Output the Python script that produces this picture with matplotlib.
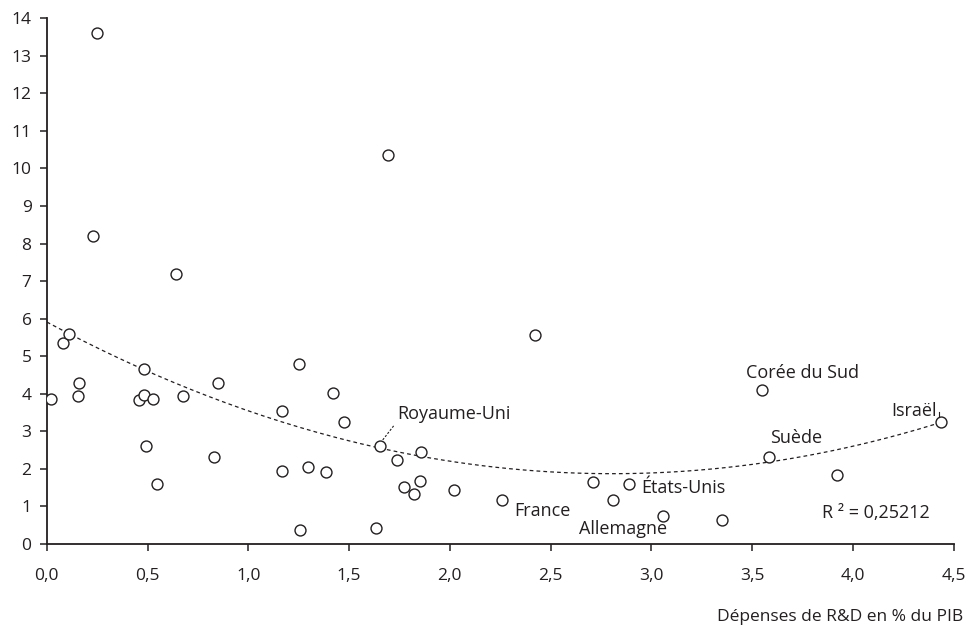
import numpy as np
import matplotlib
matplotlib.use("Agg")
import matplotlib.pyplot as plt

plt.rcParams['font.family'] = ['Open Sans', 'DejaVu Sans']

# R&D spending (% of GDP) vs y value, one entry per country
rd_spending = [0.023, 0.081, 0.110, 0.158, 0.155, 0.229, 0.249, 0.457, 0.480, 0.480,
               0.490, 0.526, 0.545, 0.642, 0.675, 0.832, 0.848, 1.165, 1.165, 1.249,
               1.258, 1.296, 1.386, 1.422, 1.477, 1.635, 1.653, 1.695, 1.737, 1.774,
               1.820, 1.851, 1.856, 2.020, 2.257, 2.422, 2.713, 2.812, 2.889, 3.058,
               3.349, 3.551, 3.586, 3.922, 4.440]
values = [3.86, 5.34, 5.58, 4.28, 3.95, 8.21, 13.60, 3.83, 3.96, 4.65,
          2.62, 3.87, 1.59, 7.20, 3.94, 2.31, 4.28, 3.53, 1.95, 4.79,
          0.37, 2.05, 1.92, 4.02, 3.24, 0.42, 2.62, 10.37, 2.24, 1.51,
          1.33, 1.68, 2.44, 1.44, 1.16, 5.56, 1.64, 1.17, 1.60, 0.74,
          0.63, 4.11, 2.32, 1.83, 3.24]

# quadratic trend (y = a x^2 + b x + c)
trend_coef = [0.513, -2.879, 5.91]
r2_text = "R \u00b2 = 0,25212"

labels = ["Royaume-Uni", "France", "Allemagne", "États-Unis", "Corée du Sud", "Suède", "Israël"]
label_x = [1.738, 2.32, 2.64, 2.952, 3.472, 3.587, 4.19]
label_y = [3.46, 0.89, 0.40, 1.48, 4.56, 2.83, 3.54]

x_ticks = [0, 0.5, 1.0, 1.5, 2.0, 2.5, 3.0, 3.5, 4.0, 4.5]
y_ticks = list(range(0, 15))

ink = "#231f20"

fig = plt.figure(figsize=(9.76, 6.31), dpi=100)
ax = fig.add_axes([0.048, 0.138, 0.929, 0.833])

xx = np.linspace(0, max(rd_spending), 200)
ax.plot(xx, np.polyval(trend_coef, xx), color=ink, lw=0.9, dashes=(3, 2.5), zorder=1)

ax.scatter(rd_spending, values, s=62, facecolor="white", edgecolor=ink, linewidth=1.0, zorder=3)

for name, lx, ly in zip(labels, label_x, label_y):
    ax.text(lx, ly, name, fontsize=13, color=ink, va="center", ha="left")

# leader lines
ax.plot([1.667, 1.722], [2.77, 3.15], color=ink, lw=0.8, dashes=(2, 1.5))
ax.plot([4.428, 4.428], [3.52, 3.29], color=ink, lw=0.8)

ax.text(3.849, 0.82, r2_text, fontsize=13, color=ink, va="center", ha="left")

ax.set_xlim(0, 4.5)
ax.set_ylim(0, 14)
ax.set_xticks(x_ticks)
ax.set_xticklabels([f"{t:.1f}".replace(".", ",") for t in x_ticks])
ax.set_yticks(y_ticks)
ax.tick_params(direction="out", length=5, width=1.1, color=ink, labelcolor=ink,
               labelsize=12.5)
ax.tick_params(axis="x", pad=12)
ax.tick_params(axis="y", pad=6)
for side in ["top", "right"]:
    ax.spines[side].set_visible(False)
for side in ["left", "bottom"]:
    ax.spines[side].set_color(ink)
    ax.spines[side].set_linewidth(1.3)

fig.text(0.987, 0.022, "Dépenses de R&D en % du PIB", fontsize=12.5, color=ink,
         ha="right", va="center")

fig.savefig("out.png", dpi=100)
